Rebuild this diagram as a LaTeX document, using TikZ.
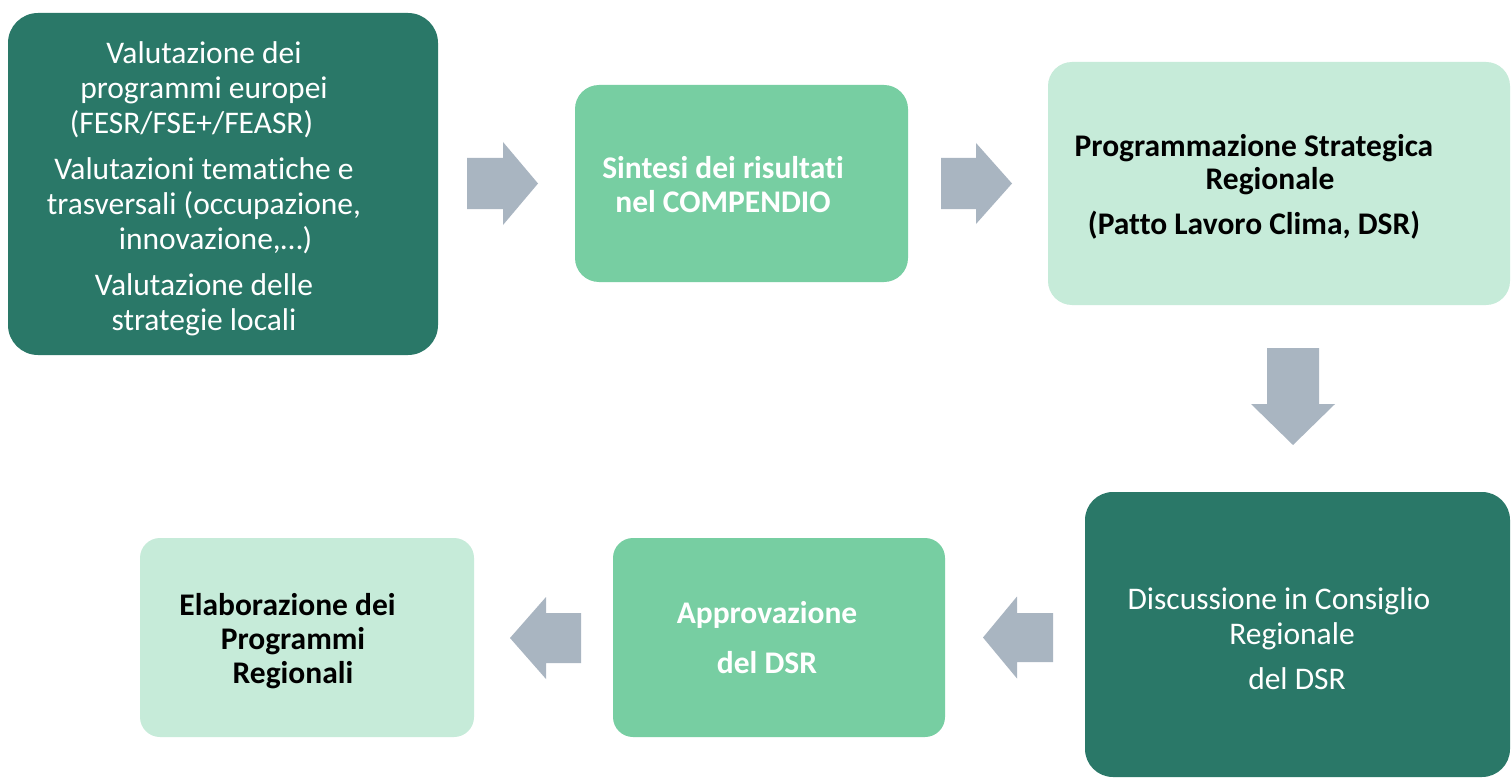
\documentclass[tikz,border=0pt]{standalone}
\usepackage{fontspec}
\setmainfont[RawFeature={-liga;-clig;-dlig;-calt;-hlig}]{Carlito}
\definecolor{dkgreen}{HTML}{2A7868}
\definecolor{mdgreen}{HTML}{77CEA2}
\definecolor{ltgreen}{HTML}{C6EBD9}
\definecolor{arrowgrey}{HTML}{A9B5C1}
\tikzset{
  boxshape/.style={rectangle, inner sep=0pt, outer sep=0pt, draw=none},
  txt/.style={inner sep=0pt, align=center},
  pics/garrow/.style n args={4}{code={
    \fill[arrowgrey] (0,-#3) -- (#1,-#3) -- (#1,-#4) -- (#1+#2,0) -- (#1,#4) -- (#1,#3) -- (0,#3) -- cycle;
  }}
}
\begin{document}
\begin{tikzpicture}[x=1pt,y=-1pt]
\useasboundingbox (0,0) rectangle (1511,778);
\fill[white] (0,0) rectangle (1511,778);

% boxes
\node[boxshape, fill=dkgreen, rounded corners=30pt, minimum width=430pt, minimum height=342pt] (b1) at (223,184) {};
\node[boxshape, fill=mdgreen, rounded corners=24pt, minimum width=333pt, minimum height=197pt] (b2) at (741.5,183.5) {};
\node[boxshape, fill=ltgreen, rounded corners=24pt, minimum width=462pt, minimum height=243pt] (b3) at (1279,183.5) {};
\node[boxshape, fill=dkgreen, rounded corners=28pt, minimum width=425pt, minimum height=285pt] (b4) at (1297.5,634.5) {};
\node[boxshape, fill=mdgreen, rounded corners=20pt, minimum width=332pt, minimum height=199pt] (b5) at (779,637.5) {};
\node[boxshape, fill=ltgreen, rounded corners=20pt, minimum width=334pt, minimum height=199pt] (b6) at (307,637.5) {};

% texts
\node[txt, text=white, font=\fontsize{31.5}{35}\selectfont] (t1) at (204,189)
  {Valutazione dei\\programmi europei\\\hbox{(FESR/FSE+/FEASR)\kern25pt}\\[11pt]
   Valutazioni tematiche e\\trasversali (occupazione,\\\hbox{\kern23pt innovazione,…)}\\[11pt]
   Valutazione delle\\strategie locali};
\node[txt, text=white, font=\bfseries\fontsize{31.5}{34}\selectfont] (t2) at (723,185)
  {Sintesi dei risultati\\nel COMPENDIO};
\node[txt, text=black, font=\bfseries\fontsize{31.5}{33}\selectfont] (t3) at (1254,187)
  {Programmazione Strategica\\\hbox{\kern32pt Regionale}\\[12pt](Patto Lavoro Clima, DSR)};
\node[txt, text=white, font=\fontsize{31.5}{35}\selectfont] (t4) at (1292,639)
  {\hbox{Discussione in Consiglio\kern26pt}\\Regionale\\[10pt]\hbox{\kern10pt del DSR}};
\node[txt, text=white, font=\bfseries\fontsize{31.5}{34}\selectfont] (t5) at (767,638)
  {Approvazione\\[16pt]del DSR};
\node[txt, text=black, font=\bfseries\fontsize{31.5}{34}\selectfont] (t6) at (293,641)
  {\hbox{Elaborazione dei\kern11pt}\\Programmi\\Regionali};

% block arrows
\pic (a1) at (467,183.5) {garrow={36}{35}{25.5}{41.5}};
\pic (a2) at (941,183.5) {garrow={35}{36}{25.5}{40.5}};
\pic[rotate=-90] (a3) at (1293,348) {garrow={56}{41}{26}{42}};
\pic[rotate=180] (a4) at (1053,637.5) {garrow={36}{34}{24.5}{41}};
\pic[rotate=180] (a5) at (581,638) {garrow={35}{36}{25}{41}};
\end{tikzpicture}
\end{document}
